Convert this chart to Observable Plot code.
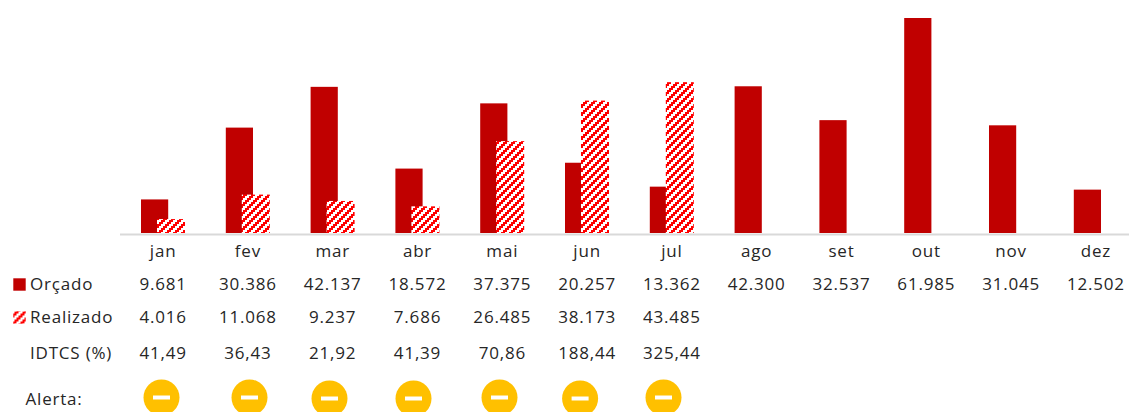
<!DOCTYPE html>
<html>
<head>
<meta charset="utf-8">
<script src="https://cdn.jsdelivr.net/npm/d3@7"></script>
<script src="https://cdn.jsdelivr.net/npm/@observablehq/plot@0.6"></script>
<style>
html,body{margin:0;padding:0;background:#fff;overflow:hidden;width:1129px;height:412px}
svg{display:block}
</style>
</head>
<body>
<div id="chart"></div>
<script>
const months = ["jan","fev","mar","abr","mai","jun","jul","ago","set","out","nov","dez"];
const orcado = [9681,30386,42137,18572,37375,20257,13362,42300,32537,61985,31045,12502];
const realizado = [4016,11068,9237,7686,26485,38173,43485];
const orcadoLabels = ["9.681","30.386","42.137","18.572","37.375","20.257","13.362","42.300","32.537","61.985","31.045","12.502"];
const realizadoLabels = ["4.016","11.068","9.237","7.686","26.485","38.173","43.485"];
const idtcsLabels = ["41,49","36,43","21,92","41,39","70,86","188,44","325,44"];
const alertMonths = ["jan","fev","mar","abr","mai","jun","jul"];
const rowNames = ["Orçado","Realizado","IDTCS (%)"];

// Layout
const W = 1129, H = 412, BASE = 233, LEFT = 120;
const ink = "#262626";
const font = "'Open Sans', sans-serif";
const fs = 17;
const rowY = {axis: 251, orcado: 284, realizado: 317, idtcs: 353, alert: 399};
const alertDx = [-1.6, 1.6, -3.2, -4, -2.8, -7, -8.4];
const alertDy = [-2, -2, -1, -1, -2, -1, -2];

const dash = {draw(ctx){ ctx.rect(-8.5,-2,17,4); }};

function row(labels, y){
  return Plot.text(labels.map((t,i)=>({m:months[i],t})), {
    x:"m", text:"t", frameAnchor:"bottom", dy:y-BASE, lineAnchor:"middle",
    fill:ink, fontSize:fs, fontFamily:font
  });
}
function rowName(t, y, left){
  return Plot.text([t], {
    frameAnchor:"bottom-left", dx:left-LEFT, dy:y-BASE, text:d=>d, textAnchor:"start", lineAnchor:"middle",
    fill:ink, fontSize:fs, fontFamily:font
  });
}
function key(fill, y){
  return Plot.dot([0], {
    frameAnchor:"bottom-left", dx:19-LEFT, dy:y-BASE, symbol:"square", r:7, fill, stroke:"none"
  });
}

const plot = Plot.plot({
  width:W, height:H, marginLeft:LEFT, marginRight:0, marginTop:18, marginBottom:H-BASE,
  x:{type:"band", domain:months, range:[120.2,1137.8], padding:0, round:false, label:null},
  y:{domain:[0,61985], axis:null},
  style:{background:"#fff", fontFamily:font, overflow:"hidden", letterSpacing:"0.8px"},
  marks:[
    Plot.barY(orcado.map((v,i)=>({m:months[i],v})), {x:"m", y:"v", fill:"#c00000", insetLeft:20.8, insetRight:36.8}),
    Plot.barY(realizado.map((v,i)=>({m:months[i],v})), {x:"m", y:"v", fill:"url(#hatch)", insetLeft:36.8, insetRight:20}),
    Plot.ruleY([0], {stroke:"#d9d9d9", strokeWidth:2, dy:1}),
    Plot.axisX({anchor:"bottom", tickSize:0, tickPadding:0, label:null, fontSize:fs, fill:ink, fontFamily:font, lineAnchor:"middle", dy:rowY.axis-BASE}),
    row(orcadoLabels, rowY.orcado),
    row(realizadoLabels, rowY.realizado),
    row(idtcsLabels, rowY.idtcs),
    rowName(rowNames[0], rowY.orcado, 29.5),
    rowName(rowNames[1], rowY.realizado, 29.5),
    rowName(rowNames[2], rowY.idtcs, 29.5),
    rowName("Alerta:", rowY.alert, 25),
    key("#c00000", 284),
    key("url(#hatch)", 317),
    ...alertMonths.flatMap((m,i)=>[
      Plot.dot([m], {x:d=>d, frameAnchor:"bottom", dx:alertDx[i], dy:rowY.alert+alertDy[i]-BASE, r:18, fill:"#ffc000"}),
      Plot.dot([m], {x:d=>d, frameAnchor:"bottom", dx:alertDx[i], dy:rowY.alert+alertDy[i]-BASE, symbol:dash, r:5, fill:"#fff"})
    ])
  ]
});

// Hatch fill: 8px tile of stair-stepped 2px blocks
const defs = d3.select(plot).insert("defs", ":first-child");
const pat = defs.append("pattern").attr("id","hatch").attr("patternUnits","userSpaceOnUse").attr("width",8).attr("height",8);
pat.append("rect").attr("width",8).attr("height",8).attr("fill","#fff");
const starts = [5,3,1,7];
starts.forEach((s,r)=>{
  for (const x of [s-8, s]) {
    pat.append("rect").attr("x",x).attr("y",r*2).attr("width",4).attr("height",2).attr("fill","#ff0000").attr("shape-rendering","crispEdges");
  }
});
document.getElementById("chart").appendChild(plot);
</script>
</body>
</html>
